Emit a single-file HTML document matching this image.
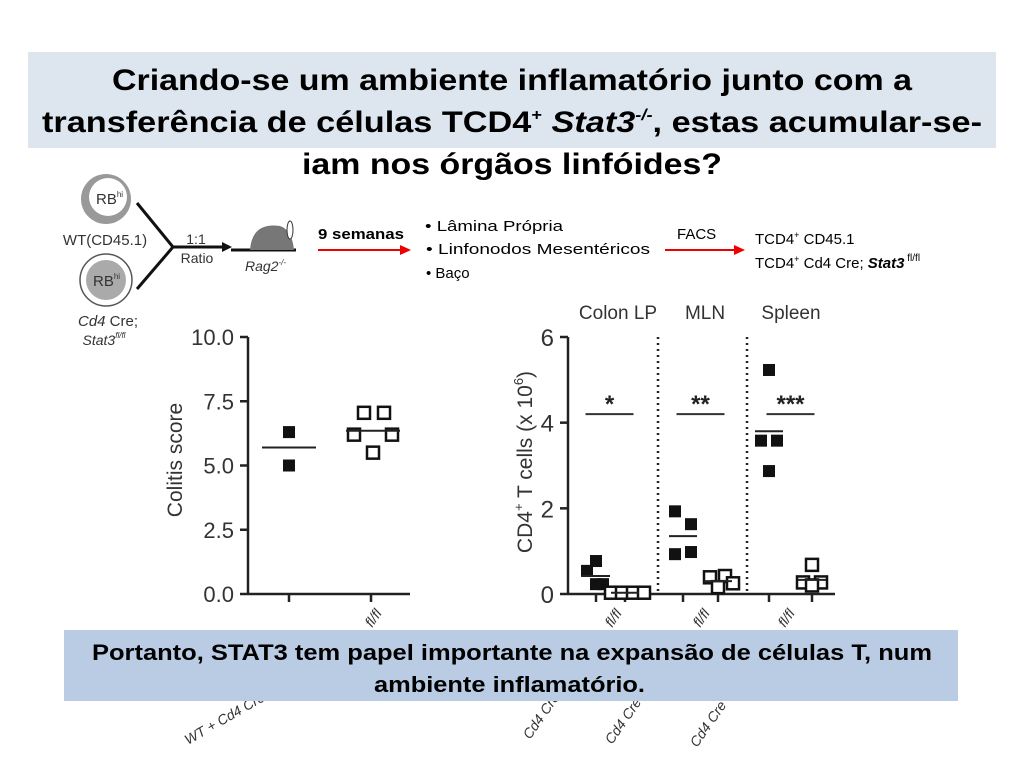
<!DOCTYPE html>
<html><head><meta charset="utf-8">
<style>
body{margin:0;width:1024px;height:768px;background:#fff;overflow:hidden;font-family:"Liberation Sans",sans-serif;}
svg{position:absolute;left:0;top:0}
text{font-family:"Liberation Sans",sans-serif}
</style></head>
<body>
<svg width="1024" height="768" id="svg">
  <rect x="28" y="52" width="968" height="96" fill="#dde5ef"/>
  <g font-weight="bold" font-size="30" fill="#000">
    <text x="112" y="90" textLength="800" lengthAdjust="spacingAndGlyphs">Criando-se um ambiente inflamatório junto com a</text>
    <text x="42" y="132" textLength="940" lengthAdjust="spacingAndGlyphs">transferência de células TCD4<tspan font-size="16" dy="-12">+</tspan><tspan dy="12"> </tspan><tspan font-style="italic">Stat3<tspan font-size="16" dy="-12">-/-</tspan></tspan><tspan dy="12">, estas acumular-se-</tspan></text>
    <text x="302" y="174" textLength="420" lengthAdjust="spacingAndGlyphs">iam nos órgãos linfóides?</text>
  </g>

  <g>
    <circle cx="106" cy="199" r="25" fill="#999"/><circle cx="108" cy="197" r="19" fill="#fff"/>
    <text x="96" y="204" font-size="15" fill="#333">RB<tspan font-size="8" dy="-7">hi</tspan></text>
    <text x="105" y="245" font-size="15" text-anchor="middle" fill="#333">WT(CD45.1)</text>
    <circle cx="106" cy="280" r="26" fill="#fff" stroke="#555" stroke-width="1.5"/><circle cx="106" cy="280" r="20" fill="#aaa"/>
    <text x="93" y="286" font-size="15" fill="#333">RB<tspan font-size="8" dy="-7">hi</tspan></text>
    <text x="108" y="326" font-size="15" font-style="italic" text-anchor="middle" fill="#333">Cd4 <tspan font-style="normal">Cre;</tspan></text>
    <text x="104" y="345" font-size="14" font-style="italic" text-anchor="middle" fill="#333">Stat3<tspan font-size="8" dy="-7">fl/fl</tspan></text>
    <path d="M137 203 L173 247 L137 289" fill="none" stroke="#111" stroke-width="3"/>
    <line x1="173" y1="247" x2="222" y2="247" stroke="#111" stroke-width="3"/>
    <polygon points="222,242 232,247 222,252" fill="#111"/>
    <text x="196" y="244" font-size="14" text-anchor="middle" fill="#333">1:1</text>
    <text x="197" y="263" font-size="14" text-anchor="middle" fill="#333">Ratio</text>
    <line x1="231" y1="250" x2="296" y2="250" stroke="#111" stroke-width="3"/>
    <path d="M250 250 Q252 222 280 226 Q292 230 294 250 Z" fill="#777"/>
    <ellipse cx="290" cy="230" rx="3" ry="9" fill="#fff" stroke="#333"/>
    <text x="245" y="271" font-size="14" font-style="italic" fill="#333">Rag2<tspan font-size="8" dy="-6">-/-</tspan></text>
  </g>
  <g font-size="15" fill="#000">
    <text x="318" y="239" font-weight="bold" textLength="86" lengthAdjust="spacingAndGlyphs">9 semanas</text>
    <line x1="318" y1="250" x2="402" y2="250" stroke="#e00" stroke-width="2"/>
    <polygon points="400,245 411,250 400,255" fill="#e00"/>
    <text x="425" y="231" textLength="138" lengthAdjust="spacingAndGlyphs">• Lâmina Própria</text>
    <text x="426" y="254" textLength="224" lengthAdjust="spacingAndGlyphs">•  Linfonodos Mesentéricos</text>
    <text x="426" y="278">•  Baço</text>
    <text x="677" y="239">FACS</text>
    <line x1="665" y1="250" x2="736" y2="250" stroke="#e00" stroke-width="2"/>
    <polygon points="734,245 745,250 734,255" fill="#e00"/>
    <text x="755" y="244">TCD4<tspan font-size="9" dy="-6">+</tspan><tspan dy="6"> CD45.1</tspan></text>
    <text x="755" y="268">TCD4<tspan font-size="9" dy="-6">+</tspan><tspan dy="6"> Cd4 Cre; </tspan><tspan font-style="italic" font-weight="bold">Stat3</tspan><tspan font-size="10" dy="-7"> fl/fl</tspan></text>
  </g>

  <g id="left"></g>
  <g id="right"></g>

  <g font-size="14" font-style="italic" fill="#333">
    <text transform="translate(188,745) rotate(-30)">WT + Cd4 Cre</text>
    <text transform="translate(372,628) rotate(-55)">fl/fl</text>
    <text transform="translate(530,740) rotate(-55)">Cd4 Cre</text>
    <text transform="translate(612,628) rotate(-55)">fl/fl</text>
    <text transform="translate(612,745) rotate(-55)">Cd4 Cre</text>
    <text transform="translate(700,628) rotate(-55)">fl/fl</text>
    <text transform="translate(697,748) rotate(-55)">Cd4 Cre</text>
    <text transform="translate(785,628) rotate(-55)">fl/fl</text>
  </g>

  <rect x="64" y="630" width="894" height="71" fill="#b9cce4"/>
  <g font-weight="bold" font-size="22">
    <text x="92" y="660" textLength="840" lengthAdjust="spacingAndGlyphs">Portanto, STAT3 tem papel importante na expansão de células T, num</text>
    <text x="374" y="692" textLength="271" lengthAdjust="spacingAndGlyphs">ambiente inflamatório.</text>
  </g>
</svg>
<script>
const NS="http://www.w3.org/2000/svg";
function mk(p,tag,a,txt){const e=document.createElementNS(NS,tag);for(const k in a)e.setAttribute(k,a[k]);if(txt!=null)e.textContent=txt;p.appendChild(e);return e;}

const colitisTicks=[0,2.5,5,7.5,10];
const colitisTickLabels=["0.0","2.5","5.0","7.5","10.0"];
const wtScores=[6.3,5.0];
const koScores=[7.05,7.05,6.2,6.2,5.5];
const wtMean=5.7, koMean=6.35;

const organs=["Colon LP","MLN","Spleen"];
const cellTicks=[0,2,4,6];
const wtCells=[[0.77,0.54,0.23,0.23],[1.93,1.63,0.93,0.98],[5.23,3.58,3.58,2.87]];
const koCells=[[0.03,0.03,0.03,0.03],[0.39,0.42,0.25,0.16],[0.68,0.27,0.27,0.2]];
const wtCellMeans=[0.42,1.35,3.8];
const koCellMeans=[0.03,0.3,0.33];
const sigLabels=["*","**","***"];
const sigLevel=4.2;

(function(){
  const g=document.getElementById('left');
  const x0=248,y0=594,y1=337;
  const y=v=>y0-(v-0)/10*(y0-y1);
  mk(g,'line',{x1:x0,y1:y1,x2:x0,y2:y0,stroke:'#222','stroke-width':2.5});
  mk(g,'line',{x1:x0,y1:y0,x2:410,y2:y0,stroke:'#222','stroke-width':2.5});
  colitisTicks.forEach((t,i)=>{
    mk(g,'line',{x1:x0-8,y1:y(t),x2:x0,y2:y(t),stroke:'#222','stroke-width':2.5});
    const tx=mk(g,'text',{x:x0-14,y:y(t)+8,'font-size':22,'text-anchor':'end',fill:'#333'},colitisTickLabels[i]);
    
    
  });
  [289,371].forEach(cx=>mk(g,'line',{x1:cx,y1:y0,x2:cx,y2:y0+8,stroke:'#222','stroke-width':2.5}));
  const yl=mk(g,'text',{transform:'translate(182,460) rotate(-90)','font-size':21,'text-anchor':'middle',fill:'#333'},'Colitis score');
  
  
  const wx=[289,289];
  wtScores.forEach((v,i)=>{const r=mk(g,'rect',{x:wx[i]-6,y:y(v)-6,width:12,height:12,fill:'#111'});
    });
  mk(g,'line',{x1:262,y1:y(wtMean),x2:316,y2:y(wtMean),stroke:'#222','stroke-width':2});
  const kx=[364,384,354,392,373];
  koScores.forEach((v,i)=>{const r=mk(g,'rect',{x:kx[i]-6,y:y(v)-6,width:12,height:12,fill:'#fff',stroke:'#111','stroke-width':2.5});
    });
  mk(g,'line',{x1:346,y1:y(koMean),x2:400,y2:y(koMean),stroke:'#222','stroke-width':2});
})();

(function(){
  const g=document.getElementById('right');
  const x0=568,y0=594,y1=337;
  const y=v=>y0-v/6*(y0-y1);
  mk(g,'line',{x1:x0,y1:y1,x2:x0,y2:y0,stroke:'#222','stroke-width':2.5});
  mk(g,'line',{x1:x0,y1:y0,x2:835,y2:y0,stroke:'#222','stroke-width':2.5});
  cellTicks.forEach(t=>{
    mk(g,'line',{x1:x0-8,y1:y(t),x2:x0,y2:y(t),stroke:'#222','stroke-width':2.5});
    const tx=mk(g,'text',{x:x0-14,y:y(t)+9,'font-size':24,'text-anchor':'end',fill:'#333'},String(t));
    
    
  });
  const yl=mk(g,'text',{transform:'translate(532,462) rotate(-90)','font-size':21,'text-anchor':'middle',fill:'#333'});
  yl.innerHTML='CD4<tspan font-size="13" dy="-9">+</tspan><tspan dy="9"> T cells (x 10</tspan><tspan font-size="13" dy="-9">6</tspan><tspan dy="9">)</tspan>';
  
  
  const wtX=[596,683,769], koX=[625,718,812];
  const headX=[618,705,791];
  const offW=[[0,-9,0,7],[-8,8,-8,8],[0,-8,8,0]];
  const offK=[[-14,-3,8,19],[-8,7,15,0],[0,-9,9,0]];
  [658,747].forEach(sx=>mk(g,'line',{x1:sx,y1:y1,x2:sx,y2:y0,stroke:'#222','stroke-width':2.5,'stroke-dasharray':'2 4'}));
  organs.forEach((o,i)=>{
    const h=mk(g,'text',{x:headX[i],y:319,'font-size':19,'text-anchor':'middle',fill:'#333'},o);
    
    mk(g,'line',{x1:wtX[i],y1:y0,x2:wtX[i],y2:y0+8,stroke:'#222','stroke-width':2.5});
    mk(g,'line',{x1:koX[i],y1:y0,x2:koX[i],y2:y0+8,stroke:'#222','stroke-width':2.5});
    wtCells[i].forEach((v,j)=>{const r=mk(g,'rect',{x:wtX[i]+offW[i][j]-6,y:y(v)-6,width:12,height:12,fill:'#111'});
      });
    koCells[i].forEach((v,j)=>{const r=mk(g,'rect',{x:koX[i]+offK[i][j]-6,y:y(v)-6,width:12,height:12,fill:'#fff',stroke:'#111','stroke-width':2.5});
      });
    mk(g,'line',{x1:wtX[i]-14,y1:y(wtCellMeans[i]),x2:wtX[i]+14,y2:y(wtCellMeans[i]),stroke:'#222','stroke-width':2});
    mk(g,'line',{x1:koX[i]-14,y1:y(koCellMeans[i]),x2:koX[i]+14,y2:y(koCellMeans[i]),stroke:'#222','stroke-width':2});
    const sx=(wtX[i]+koX[i])/2+(i==0?-1:0);
    mk(g,'line',{x1:sx-24,y1:y(sigLevel),x2:sx+24,y2:y(sigLevel),stroke:'#333','stroke-width':2});
    const st=mk(g,'text',{x:sx,y:y(sigLevel)-2,'font-size':24,'font-weight':'bold','text-anchor':'middle',fill:'#222'},sigLabels[i]);
    
  });
})();
</script>
</body></html>
